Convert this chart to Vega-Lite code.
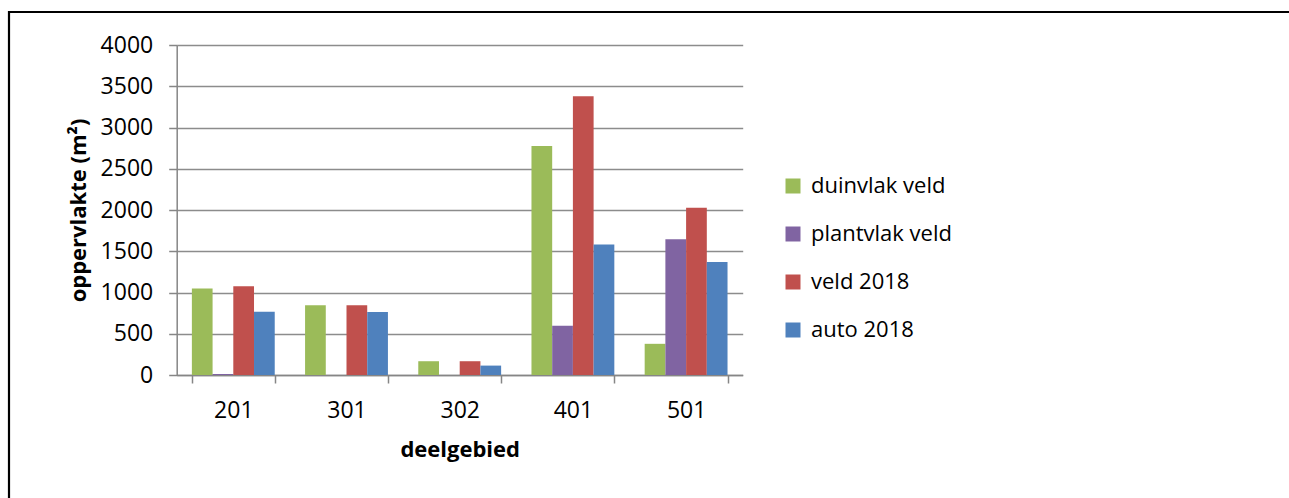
{
  "$schema": "https://vega.github.io/schema/vega-lite/v6.json",
  "width": 1290,
  "height": 490,
  "autosize": {"type": "none"},
  "padding": {"left": 9, "top": 12, "right": 0, "bottom": 0},
  "background": "white",
  "config": {
    "view": {"stroke": "#000000", "strokeWidth": 2.2},
    "font": "Open Sans",
    "axis": {
      "labelFont": "Open Sans", "labelFontSize": 23, "labelColor": "#000000",
      "titleFont": "Open Sans", "titleFontSize": 22, "titleFontWeight": "bold", "titleColor": "#000000",
      "domainColor": "#868686", "domainWidth": 1.5,
      "tickColor": "#868686", "tickWidth": 1.5, "tickSize": 8,
      "gridColor": "#8c8c8c", "gridWidth": 1.5
    }
  },
  "data": {
    "values": [
      {"deelgebied": "201", "reeks": "duinvlak veld", "oppervlakte": 1048},
      {"deelgebied": "201", "reeks": "plantvlak veld", "oppervlakte": 12},
      {"deelgebied": "201", "reeks": "veld 2018", "oppervlakte": 1075},
      {"deelgebied": "201", "reeks": "auto 2018", "oppervlakte": 768},
      {"deelgebied": "301", "reeks": "duinvlak veld", "oppervlakte": 846},
      {"deelgebied": "301", "reeks": "plantvlak veld", "oppervlakte": 0},
      {"deelgebied": "301", "reeks": "veld 2018", "oppervlakte": 846},
      {"deelgebied": "301", "reeks": "auto 2018", "oppervlakte": 764},
      {"deelgebied": "302", "reeks": "duinvlak veld", "oppervlakte": 167},
      {"deelgebied": "302", "reeks": "plantvlak veld", "oppervlakte": 0},
      {"deelgebied": "302", "reeks": "veld 2018", "oppervlakte": 167},
      {"deelgebied": "302", "reeks": "auto 2018", "oppervlakte": 114},
      {"deelgebied": "401", "reeks": "duinvlak veld", "oppervlakte": 2775},
      {"deelgebied": "401", "reeks": "plantvlak veld", "oppervlakte": 598},
      {"deelgebied": "401", "reeks": "veld 2018", "oppervlakte": 3380},
      {"deelgebied": "401", "reeks": "auto 2018", "oppervlakte": 1583},
      {"deelgebied": "501", "reeks": "duinvlak veld", "oppervlakte": 378},
      {"deelgebied": "501", "reeks": "plantvlak veld", "oppervlakte": 1645},
      {"deelgebied": "501", "reeks": "veld 2018", "oppervlakte": 2028},
      {"deelgebied": "501", "reeks": "auto 2018", "oppervlakte": 1370}
    ]
  },
  "mark": {"type": "bar"},
  "encoding": {
    "x": {
      "field": "deelgebied", "type": "nominal", "sort": null,
      "scale": {"range": [167.7, 733.7], "paddingInner": 0.268, "paddingOuter": 0.134},
      "axis": {"title": "deelgebied", "labelAngle": 0, "tickBand": "extent", "offset": -127, "labelPadding": 16, "titlePadding": 17, "grid": false}
    },
    "xOffset": {"field": "reeks", "type": "nominal", "sort": ["duinvlak veld", "plantvlak veld", "veld 2018", "auto 2018"], "scale": {"paddingInner": 0, "paddingOuter": 0}},
    "y": {
      "field": "oppervlakte", "type": "quantitative",
      "scale": {"domain": [0, 4000], "range": [363, 33], "nice": false, "zero": true},
      "axis": {"title": "oppervlakte (m²)", "format": "d", "values": [0, 500, 1000, 1500, 2000, 2500, 3000, 3500, 4000], "offset": -167.7, "labelPadding": 16, "titlePadding": 10, "grid": true}
    },
    "color": {
      "field": "reeks", "type": "nominal",
      "scale": {"domain": ["duinvlak veld", "plantvlak veld", "veld 2018", "auto 2018"], "range": ["#9BBB59", "#8064A2", "#C0504D", "#4F81BD"]},
      "legend": {"title": null, "orient": "none", "legendX": 773, "legendY": 163, "symbolType": "square", "symbolSize": 225, "symbolStrokeWidth": 0, "labelFont": "Open Sans", "labelFontSize": 22, "labelColor": "#000000", "labelOffset": 7, "rowPadding": 26, "padding": 0}
    }
  }
}
